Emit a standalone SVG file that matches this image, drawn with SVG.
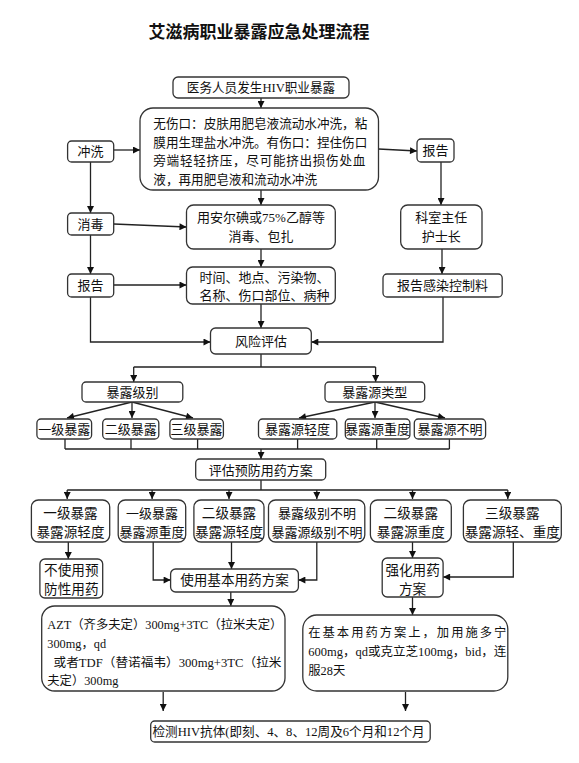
<svg xmlns="http://www.w3.org/2000/svg" width="579" height="763" viewBox="0 0 579 763">
<style>
.b{fill:#fff;stroke:#333;stroke-width:1.3}
.t{font-family:"Liberation Serif","Noto Sans CJK SC",serif;font-size:13px;fill:#111}
.c{text-anchor:middle}
.s{font-size:12.6px}
.m{font-size:13.6px}
.ln{fill:none;stroke:#222;stroke-width:1.3}
.ttl{font-family:"Noto Sans CJK SC","Noto Sans CJK JP",sans-serif;font-size:17px;font-weight:bold;fill:#111;text-anchor:middle}
</style>
<defs>
<marker id="ah" viewBox="0 0 10 10" refX="10" refY="5" markerWidth="8" markerHeight="7" markerUnits="userSpaceOnUse" orient="auto"><path d="M0,0 L10,5 L0,10 z" fill="#111"/></marker>
<clipPath id="clipB"><rect x="150" y="719" width="279" height="26"/></clipPath>
</defs>
<rect width="579" height="763" fill="#fff"/>
<text class="ttl" x="259" y="38">艾滋病职业暴露应急处理流程</text>

<g id="connectors">
<path class="ln" d="M261,98 V108" marker-end="url(#ah)"/>
<path class="ln" d="M113.7,150 H140" marker-end="url(#ah)"/>
<path class="ln" d="M378.5,149 L417,151" marker-end="url(#ah)"/>
<path class="ln" d="M90.5,162 V213" marker-end="url(#ah)"/>
<path class="ln" d="M261,190 V205" marker-end="url(#ah)"/>
<path class="ln" d="M441,162 V205" marker-end="url(#ah)"/>
<path class="ln" d="M113.7,224 L186.5,227" marker-end="url(#ah)"/>
<path class="ln" d="M90.5,235 V274" marker-end="url(#ah)"/>
<path class="ln" d="M261,249 V267" marker-end="url(#ah)"/>
<path class="ln" d="M442,249 V274" marker-end="url(#ah)"/>
<path class="ln" d="M113.7,285 H186.5" marker-end="url(#ah)"/>
<path class="ln" d="M261,304 V328" marker-end="url(#ah)"/>
<path class="ln" d="M90.5,297 V342 H210.5" marker-end="url(#ah)"/>
<path class="ln" d="M443,297 V342 H311.3" marker-end="url(#ah)"/>
<path class="ln" d="M261,354 V367 M133.7,367 H375.6"/>
<path class="ln" d="M133.7,367 V382" marker-end="url(#ah)"/>
<path class="ln" d="M375.6,367 V382" marker-end="url(#ah)"/>
<path class="ln" d="M132,402 L67,418" marker-end="url(#ah)"/>
<path class="ln" d="M132,402 V418" marker-end="url(#ah)"/>
<path class="ln" d="M132,402 L193,418" marker-end="url(#ah)"/>
<path class="ln" d="M375,402 L299,418" marker-end="url(#ah)"/>
<path class="ln" d="M375,402 V418" marker-end="url(#ah)"/>
<path class="ln" d="M375,402 L445,418" marker-end="url(#ah)"/>
<path class="ln" d="M65,439 V449 M131,439 V449 M197.6,439 V449 M297.6,439 V449 M376.7,439 V449 M449.4,439 V449 M65,449 H449.4"/>
<path class="ln" d="M261,449 V459" marker-end="url(#ah)"/>
<path class="ln" d="M261,480 V490 M67.2,490 H507.8"/>
<path class="ln" d="M67.2,490 V499" marker-end="url(#ah)"/>
<path class="ln" d="M152.1,490 V499" marker-end="url(#ah)"/>
<path class="ln" d="M229,490 V499" marker-end="url(#ah)"/>
<path class="ln" d="M316.8,490 V499" marker-end="url(#ah)"/>
<path class="ln" d="M412.5,490 V499" marker-end="url(#ah)"/>
<path class="ln" d="M507.8,490 V499" marker-end="url(#ah)"/>
<path class="ln" d="M68.3,542 V559" marker-end="url(#ah)"/>
<path class="ln" d="M153.2,542 V580 H170.6" marker-end="url(#ah)"/>
<path class="ln" d="M231.5,542 V569" marker-end="url(#ah)"/>
<path class="ln" d="M316.8,542 V580 H298.4" marker-end="url(#ah)"/>
<path class="ln" d="M412.5,542 V558" marker-end="url(#ah)"/>
<path class="ln" d="M513.3,542 V577 H443.1" marker-end="url(#ah)"/>
<path class="ln" d="M230.8,592 V606" marker-end="url(#ah)"/>
<path class="ln" d="M412.5,597 V615" marker-end="url(#ah)"/>
<path class="ln" d="M163.2,692 V711" marker-end="url(#ah)"/>
<path class="ln" d="M405.5,692 V711" marker-end="url(#ah)"/>
</g>

<g id="n_start"><rect class="b" x="173" y="77" width="176" height="21" rx="5"/><text class="t s c" x="261" y="92">医务人员发生HIV职业暴露</text></g>
<g id="n_wash_detail"><rect class="b" x="140" y="108" width="238.5" height="82" rx="13"/>
<text class="t s" x="153.3" y="128" textLength="214" lengthAdjust="spacing">无伤口：皮肤用肥皂液流动水冲洗，粘</text>
<text class="t s" x="153.3" y="146.5" textLength="214" lengthAdjust="spacing">膜用生理盐水冲洗。有伤口：捏住伤口</text>
<text class="t s" x="153.3" y="165" textLength="212" lengthAdjust="spacing">旁端轻轻挤压，尽可能挤出损伤处血</text>
<text class="t s" x="153.3" y="184">液，再用肥皂液和流动水冲洗</text></g>
<g id="n_wash"><rect class="b" x="67.6" y="141" width="46.1" height="21" rx="4"/><text class="t c" x="90.6" y="156">冲洗</text></g>
<g id="n_report_r"><rect class="b" x="417" y="139" width="37" height="23" rx="4"/><text class="t c" x="435.5" y="155">报告</text></g>
<g id="n_disinfect"><rect class="b" x="67.6" y="213" width="46.1" height="22" rx="4"/><text class="t c" x="90.6" y="228.5">消毒</text></g>
<g id="n_disinfect_detail"><rect class="b" x="186.5" y="205" width="148.8" height="44" rx="7"/>
<text class="t c" x="261" y="222">用安尔碘或75%乙醇等</text><text class="t c" x="261" y="240.5">消毒、包扎</text></g>
<g id="n_head"><rect class="b" x="400.7" y="205" width="81.3" height="44" rx="7"/>
<text class="t c" x="441.3" y="222">科室主任</text><text class="t c" x="441.3" y="240.5">护士长</text></g>
<g id="n_report_l"><rect class="b" x="67.6" y="274" width="46.1" height="23" rx="4"/><text class="t c" x="90.6" y="290">报告</text></g>
<g id="n_report_detail"><rect class="b" x="186.5" y="267" width="148.8" height="37" rx="6"/>
<text class="t" x="199.4" y="281.5">时间、地点、污染物、</text><text class="t" x="199.4" y="300">名称、伤口部位、病种</text></g>
<g id="n_report_ic"><rect class="b" x="383" y="274" width="119.2" height="23" rx="4"/><text class="t c" x="442.6" y="290">报告感染控制料</text></g>
<g id="n_risk"><rect class="b" x="210.5" y="328" width="100.8" height="26" rx="5"/><text class="t c" x="261" y="345.5">风险评估</text></g>
<g id="n_level"><rect class="b" x="82" y="382" width="100.8" height="20" rx="4"/><text class="t c" x="132.4" y="396.5">暴露级别</text></g>
<g id="n_source"><rect class="b" x="325" y="382" width="99.7" height="20" rx="4"/><text class="t c" x="374.8" y="396.5">暴露源类型</text></g>
<g id="n_l1"><rect class="b" x="36.9" y="419" width="54.7" height="20" rx="4"/><text class="t c" x="64.3" y="433.5">一级暴露</text></g>
<g id="n_l2"><rect class="b" x="102.7" y="419" width="56.1" height="20" rx="4"/><text class="t c" x="130.8" y="433.5">二级暴露</text></g>
<g id="n_l3"><rect class="b" x="169.9" y="419" width="53.5" height="20" rx="4"/><text class="t c" x="196.6" y="433.5">三级暴露</text></g>
<g id="n_s1"><rect class="b" x="258.5" y="419" width="78.3" height="20" rx="4"/><text class="t c" x="297.6" y="433.5">暴露源轻度</text></g>
<g id="n_s2"><rect class="b" x="345.3" y="419" width="64.6" height="20" rx="4"/><text class="t c" x="377.6" y="433.5">暴露源重度</text></g>
<g id="n_s3"><rect class="b" x="414.3" y="419" width="71.3" height="20" rx="4"/><text class="t c" x="450" y="433.5">暴露源不明</text></g>
<g id="n_eval"><rect class="b" x="195.7" y="459" width="130" height="21" rx="4"/><text class="t c" x="260.7" y="474.5">评估预防用药方案</text></g>
<g id="n_c1"><rect class="b" x="31.4" y="500" width="78.3" height="42" rx="7"/><text class="t c m" x="70.5" y="517.5">一级暴露</text><text class="t c m" x="70.5" y="536.5">暴露源轻度</text></g>
<g id="n_c2"><rect class="b" x="118.2" y="500" width="67.5" height="42" rx="7"/><text class="t c" x="152" y="517.5">一级暴露</text><text class="t c" x="152" y="536.5">暴露源重度</text></g>
<g id="n_c3"><rect class="b" x="193.9" y="500" width="70.1" height="42" rx="7"/><text class="t c m" x="229" y="517.5">二级暴露</text><text class="t c m" x="229" y="536.5">暴露源轻度</text></g>
<g id="n_c4"><rect class="b" x="268.5" y="500" width="96.3" height="42" rx="7"/><text class="t c" x="317" y="517.5">暴露级别不明</text><text class="t c" x="317" y="536.5">暴露源级别不明</text></g>
<g id="n_c5"><rect class="b" x="370.4" y="500" width="80.9" height="42" rx="7"/><text class="t c m" x="410.8" y="517.5">二级暴露</text><text class="t c m" x="410.8" y="536.5">暴露源重度</text></g>
<g id="n_c6"><rect class="b" x="463.4" y="500" width="97.9" height="42" rx="7"/><text class="t c m" x="512.3" y="517.5">三级暴露</text><text class="t c m" x="512.3" y="536.5">暴露源轻、重度</text></g>
<g id="n_none"><rect class="b" x="39.9" y="559" width="62.8" height="39" rx="5"/><text class="t c m" x="71.3" y="574.5">不使用预</text><text class="t c m" x="71.3" y="593.5">防性用药</text></g>
<g id="n_basic"><rect class="b" x="170.6" y="569" width="127.8" height="23" rx="5"/><text class="t c m" x="234.5" y="585">使用基本用药方案</text></g>
<g id="n_strong"><rect class="b" x="382.2" y="558" width="60.9" height="39" rx="5"/><text class="t c m" x="412.6" y="575">强化用药</text><text class="t c m" x="412.6" y="594">方案</text></g>
<g id="n_basic_detail"><rect class="b" x="41.7" y="606" width="243.3" height="85" rx="13"/>
<text class="t" x="47.3" y="628.5" style="font-size:12.3px" textLength="235" lengthAdjust="spacingAndGlyphs">AZT（齐多夫定）300mg+3TC（拉米夫定）</text>
<text class="t" x="47.3" y="647.5" style="font-size:12.3px">300mg，qd</text>
<text class="t" x="53.5" y="666.5" style="font-size:12.3px" textLength="228" lengthAdjust="spacingAndGlyphs">或者TDF（替诺福韦）300mg+3TC（拉米</text>
<text class="t" x="47.3" y="685" style="font-size:12.3px">夫定）300mg</text></g>
<g id="n_strong_detail"><rect class="b" x="302.8" y="615" width="205" height="76" rx="14"/>
<text class="t" x="308.3" y="636.5" style="font-size:12.3px" textLength="198" lengthAdjust="spacing">在基本用药方案上，加用施多宁</text>
<text class="t" x="308.3" y="656" style="font-size:12.3px" textLength="198" lengthAdjust="spacingAndGlyphs">600mg，qd或克立芝100mg，bid，连</text>
<text class="t" x="308.3" y="674.5" style="font-size:12.3px">服28天</text></g>
<g id="n_test"><rect class="b" x="150.7" y="721" width="279.5" height="21" rx="4"/>
<text class="t" x="152.5" y="736" style="font-size:12.6px" clip-path="url(#clipB)">检测HIV抗体(即刻、4、8、12周及6个月和12个月</text></g>
</svg>
